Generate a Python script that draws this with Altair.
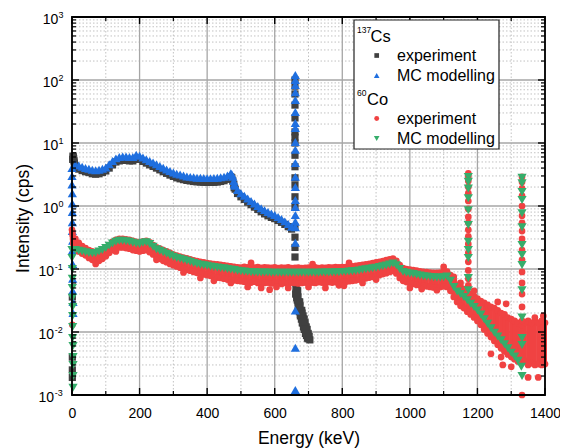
import altair as alt
import pandas as pd

FONT = "Liberation Sans"
GRAY = "#404040"
BLUE = "#1f6fdf"
RED = "#f04242"
GREEN = "#36ad6b"

# ---------------- axis / grid values ----------------
x_major = [0, 200, 400, 600, 800, 1000, 1200, 1400]
x_minor = [100, 300, 500, 700, 900, 1100, 1300]
y_exps = [-3, -2, -1, 0, 1, 2, 3]
y_minor_mult = [2, 3, 4, 5, 6, 7, 8, 9]

# ---------------- 137Cs ----------------
cs_energy = list(range(10, 660, 10))
cs_mc = [4.5, 4.4, 4.2, 4.0, 3.9, 3.75, 3.7, 3.75, 3.9, 4.1,
         4.6, 5.2, 5.7, 6.0, 6.1, 6.1, 6.0, 6.0, 6.5, 6.3,
         5.9, 5.5, 5.2, 4.9, 4.6, 4.3, 4.05, 3.8, 3.6, 3.4,
         3.25, 3.15, 3.05, 2.95, 2.9, 2.85, 2.82, 2.8, 2.78, 2.77,
         2.77, 2.78, 2.8, 2.85, 2.92, 3.05, 3.3, 2.2, 1.8, 1.6,
         1.45, 1.32, 1.2, 1.1, 1.0, 0.92, 0.86, 0.8, 0.76, 0.72,
         0.67, 0.62, 0.57, 0.52, 0.47]
cs_exp = [4.0, 3.85, 3.65, 3.5, 3.4, 3.25, 3.2, 3.25, 3.4, 3.6,
          4.0, 4.5, 5.0, 5.2, 5.3, 5.3, 5.2, 5.2, 5.6, 5.5,
          5.1, 4.8, 4.5, 4.25, 4.0, 3.75, 3.5, 3.3, 3.1, 2.95,
          2.8, 2.7, 2.62, 2.55, 2.5, 2.45, 2.42, 2.4, 2.38, 2.37,
          2.37, 2.38, 2.4, 2.45, 2.52, 2.65, 2.9, 1.95, 1.58, 1.4,
          1.27, 1.15, 1.05, 0.96, 0.88, 0.81, 0.75, 0.7, 0.66, 0.63,
          0.59, 0.55, 0.51, 0.47, 0.43]
cs_edge_energy = [473, 476, 479, 483]
cs_edge_mc = [3.2, 2.9, 2.5, 2.1]
cs_edge_exp = [2.8, 2.5, 2.2, 1.85]

cs_mc_low_energy = [0, 0, 0, 1, 1, 1, 1, 1, 2, 2, 2, 2, 2, 3, 3]
cs_mc_low = [4.0, 3.0, 2.2, 1.6, 1.1, 0.8, 0.55, 0.4, 0.28, 0.2, 0.12, 0.07, 0.045, 0.03, 0.02]
cs_exp_low_energy = [2, 3, 4, 5, 6, 7, 8, 1, 1, 1, 1]
cs_exp_low = [5.5, 6.2, 6.0, 5.6, 5.2, 4.8, 4.4, 0.036, 0.004, 0.0025, 0.0019]

cs_mc_peak_energy = [661] * 22
cs_mc_peak = [120, 100, 83, 64, 48, 31, 20.8, 17.3, 10.4, 7.8, 4.8, 2.9, 2.0,
              1.25, 0.96, 0.72, 0.56, 0.46, 0.26, 0.022, 0.0056, 0.0012]
cs_exp_peak_energy = [660] * 18
cs_exp_peak = [100, 80, 60, 40, 25, 15, 12.4, 10, 6.4, 4.2, 2.8, 2.15, 1.4,
               0.96, 0.46, 0.32, 0.22, 0.155]
cs_exp_tail_energy = [663, 663, 664, 666, 666, 667, 669, 669, 670, 672, 672, 673,
                      675, 675, 676, 678, 678, 679, 681, 681, 682, 684, 684, 685,
                      687, 687, 688, 690, 690, 691, 693, 693, 694, 696, 696, 697,
                      699, 699, 668, 674, 680, 686, 692, 698, 702, 704,
                      662, 665, 670, 676, 682, 688]
cs_exp_tail = [0.06, 0.05, 0.042, 0.045, 0.038, 0.032, 0.036, 0.03, 0.026, 0.03, 0.025, 0.021,
               0.026, 0.022, 0.018, 0.022, 0.019, 0.016, 0.02, 0.017, 0.014, 0.018, 0.015, 0.012,
               0.016, 0.013, 0.011, 0.014, 0.012, 0.0095, 0.012, 0.0105, 0.0088, 0.011, 0.0092, 0.008,
               0.0095, 0.0078, 0.045, 0.03, 0.022, 0.016, 0.012, 0.009, 0.0085, 0.0075,
               0.04, 0.035, 0.024, 0.019, 0.014, 0.011]

# ---------------- 60Co ----------------
co_mc_energy = list(range(10, 1340, 10))
co_mc = [0.2, 0.195, 0.19, 0.185, 0.18, 0.178, 0.18, 0.19, 0.2, 0.215,
         0.235, 0.255, 0.27, 0.28, 0.28, 0.275, 0.27, 0.26, 0.255, 0.25,
         0.26, 0.265, 0.25, 0.225, 0.205, 0.195, 0.185, 0.175, 0.165, 0.157,
         0.15, 0.145, 0.14, 0.135, 0.13, 0.125, 0.12, 0.117, 0.115, 0.113,
         0.11, 0.108, 0.106, 0.104, 0.103, 0.1, 0.098, 0.096, 0.094, 0.092,
         0.091, 0.09, 0.089, 0.089, 0.088, 0.088, 0.088, 0.088, 0.087, 0.087,
         0.087, 0.087, 0.087, 0.087, 0.087, 0.087, 0.087, 0.087, 0.087, 0.087,
         0.087, 0.087, 0.087, 0.088, 0.088, 0.088, 0.088, 0.089, 0.089, 0.09,
         0.09, 0.091, 0.092, 0.093, 0.095, 0.097, 0.099, 0.101, 0.103, 0.105,
         0.108, 0.111, 0.114, 0.118, 0.122, 0.115, 0.1, 0.09, 0.087, 0.085,
         0.083, 0.081, 0.079, 0.077, 0.076, 0.075, 0.074, 0.073, 0.073, 0.074,
         0.076, 0.065, 0.052, 0.044, 0.04, 0.036, 0.032, 0.028, 0.025, 0.022,
         0.019, 0.016, 0.0135, 0.0115, 0.0097, 0.0085, 0.0074, 0.0064, 0.0055, 0.0047,
         0.0041, 0.0035, 0.0028]
co_mc_low_energy = [0, 0, 1, 1, 1, 1, 2, 2, 2, 2, 3, 3, 3, 3, 3]
co_mc_low = [0.2, 0.15, 0.1, 0.07, 0.05, 0.035, 0.025, 0.018, 0.012, 0.008,
             0.006, 0.004, 0.003, 0.002, 0.0013]
co_mc_peak1_energy = [1173] * 11
co_mc_peak1 = [2.9, 2.43, 1.9, 1.33, 0.86, 0.5, 0.27, 0.2, 0.15, 0.072, 0.046]
co_mc_peak2_energy = [1332] * 14
co_mc_peak2 = [2.8, 2.3, 1.67, 1.25, 0.77, 0.46, 0.24, 0.167, 0.116, 0.046,
               0.017, 0.008, 0.0062, 0.002]

co_exp_energy = list(range(10, 1410, 10))
co_exp_hi = [0.30, 0.26, 0.23, 0.215, 0.20, 0.19, 0.185, 0.19, 0.20, 0.22,
             0.24, 0.27, 0.29, 0.30, 0.30, 0.295, 0.29, 0.28, 0.27, 0.265,
             0.275, 0.28, 0.265, 0.24, 0.22, 0.21, 0.20, 0.19, 0.18, 0.17,
             0.163, 0.157, 0.152, 0.147, 0.142, 0.137, 0.133, 0.13, 0.127, 0.124,
             0.122, 0.12, 0.118, 0.116, 0.114, 0.112, 0.11, 0.108, 0.106, 0.105,
             0.108, 0.106, 0.11, 0.105, 0.107, 0.104, 0.106, 0.105, 0.104, 0.106,
             0.103, 0.105, 0.104, 0.106, 0.103, 0.104, 0.105, 0.103, 0.104, 0.105,
             0.104, 0.106, 0.103, 0.105, 0.104, 0.106, 0.105, 0.107, 0.106, 0.107,
             0.107, 0.108, 0.11, 0.112, 0.114, 0.116, 0.119, 0.121, 0.124, 0.127,
             0.13, 0.134, 0.138, 0.142, 0.146, 0.135, 0.115, 0.103, 0.10, 0.098,
             0.096, 0.094, 0.092, 0.09, 0.089, 0.088, 0.087, 0.087, 0.088, 0.09,
             0.091, 0.08, 0.066, 0.056, 0.052, 0.048, 0.044, 0.04, 0.037, 0.034,
             0.031, 0.029, 0.027, 0.025, 0.024, 0.022, 0.02, 0.019, 0.017, 0.016,
             0.015, 0.014, 0.013, 0.014, 0.015, 0.014, 0.015, 0.014, 0.015, 0.014]
co_exp_lo = [0.22, 0.19, 0.175, 0.165, 0.15, 0.14, 0.13, 0.135, 0.145, 0.16,
             0.18, 0.20, 0.215, 0.22, 0.22, 0.215, 0.21, 0.20, 0.195, 0.19,
             0.195, 0.2, 0.185, 0.17, 0.155, 0.145, 0.135, 0.128, 0.12, 0.115,
             0.11, 0.105, 0.1, 0.097, 0.094, 0.09, 0.087, 0.084, 0.082, 0.08,
             0.078, 0.075, 0.073, 0.072, 0.07, 0.068, 0.067, 0.066, 0.065, 0.064,
             0.063, 0.062, 0.061, 0.063, 0.06, 0.062, 0.06, 0.061, 0.059, 0.061,
             0.06, 0.058, 0.06, 0.059, 0.061, 0.06, 0.059, 0.06, 0.061, 0.06,
             0.061, 0.06, 0.062, 0.061, 0.06, 0.062, 0.061, 0.062, 0.061, 0.063,
             0.063, 0.064, 0.065, 0.066, 0.068, 0.07, 0.071, 0.073, 0.075, 0.077,
             0.08, 0.083, 0.086, 0.09, 0.093, 0.085, 0.072, 0.065, 0.062, 0.06,
             0.058, 0.056, 0.055, 0.054, 0.053, 0.052, 0.051, 0.051, 0.052, 0.053,
             0.052, 0.045, 0.036, 0.03, 0.026, 0.024, 0.021, 0.019, 0.017, 0.015,
             0.013, 0.011, 0.0095, 0.0083, 0.0072, 0.0063, 0.0055, 0.0049, 0.0044, 0.004,
             0.0037, 0.0034, 0.0032, 0.0035, 0.003, 0.0032, 0.003, 0.0031, 0.003, 0.0031]
co_exp_scatter_energy = [70, 130, 250, 330, 380, 420, 470, 520, 560, 585, 605, 640,
                         700, 750, 790, 805, 860, 900, 1000, 1035, 1080, 530, 712, 820,
                         1100, 1130, 1150, 1190, 1260, 1285, 1270, 1300, 1240, 1350,
                         1380, 1395, 1370, 1275]
co_exp_scatter = [0.12, 0.19, 0.14, 0.088, 0.072, 0.065, 0.06, 0.052, 0.05, 0.047, 0.052, 0.05,
                  0.052, 0.05, 0.055, 0.054, 0.06, 0.068, 0.05, 0.048, 0.046, 0.125, 0.12, 0.125,
                  0.108, 0.075, 0.06, 0.045, 0.03, 0.028, 0.004, 0.0028, 0.0045, 0.0019,
                  0.0019, 0.018, 0.017, 0.003]
co_exp_low_energy = [0, 1, 2, 3, 4, 5, 1]
co_exp_low = [0.42, 0.38, 0.34, 0.3, 0.26, 0.24, 0.013]
co_exp_peak1_energy = [1173] * 17
co_exp_peak1 = [3.3, 2.9, 2.5, 2.0, 1.6, 1.2, 0.9, 0.67, 0.54, 0.42, 0.33, 0.25,
                0.18, 0.13, 0.095, 0.07, 0.055]
co_exp_peak2_energy = [1332] * 17
co_exp_peak2 = [2.9, 2.4, 1.9, 1.45, 1.0, 0.7, 0.54, 0.4, 0.3, 0.2, 0.14, 0.09,
                0.06, 0.04, 0.025, 0.015, 0.001]

assert len(cs_mc) == len(cs_energy) == len(cs_exp)
assert len(cs_exp_tail) == len(cs_exp_tail_energy)
assert len(co_mc) == len(co_mc_energy)
assert len(co_exp_hi) == len(co_exp_energy) == len(co_exp_lo)
assert len(co_exp_scatter) == len(co_exp_scatter_energy)

# ---------------- frames ----------------
def pts(*pairs):
    es, vs = [], []
    for e, v in pairs:
        es += list(e)
        vs += list(v)
    return pd.DataFrame({"E": es, "I": vs})

df_cs_exp = pts((cs_energy, cs_exp), (cs_edge_energy, cs_edge_exp),
                (cs_exp_low_energy, cs_exp_low), (cs_exp_peak_energy, cs_exp_peak),
                (cs_exp_tail_energy, cs_exp_tail))
df_cs_mc = pts((cs_energy, cs_mc), (cs_edge_energy, cs_edge_mc),
               (cs_mc_low_energy, cs_mc_low), (cs_mc_peak_energy, cs_mc_peak))
df_co_mc = pts((co_mc_energy, co_mc), (co_mc_low_energy, co_mc_low),
               (co_mc_peak1_energy, co_mc_peak1), (co_mc_peak2_energy, co_mc_peak2))
df_co_band = pd.DataFrame({"E": co_exp_energy, "I": co_exp_lo, "I2": co_exp_hi})
df_co_exp = pts((co_exp_energy, co_exp_hi), (co_exp_energy, co_exp_lo),
                (co_exp_scatter_energy, co_exp_scatter), (co_exp_low_energy, co_exp_low),
                (co_exp_peak1_energy, co_exp_peak1), (co_exp_peak2_energy, co_exp_peak2))

y_major = [10.0 ** k for k in y_exps]
y_minor = [m * 10.0 ** k for k in y_exps[:-1] for m in y_minor_mult]
df_xmaj = pd.DataFrame({"E": x_major})
df_xmin = pd.DataFrame({"E": x_minor})
df_ymaj = pd.DataFrame({"I": y_major, "exp": [str(k) for k in y_exps]})
df_ymin = pd.DataFrame({"I": y_minor})
one = pd.DataFrame({"a": [0]})

# ---------------- scales / axes ----------------
W, H = 473, 378
xs = alt.Scale(domain=[0, 1400], nice=False, zero=False)
ys = alt.Scale(type="log", domain=[0.001, 1000], nice=False)
x_axis = alt.Axis(values=x_major, format="d", ticks=False, tickSize=0, domain=False,
                  grid=False, labelFont=FONT, labelFontSize=14, labelColor="black",
                  labelBaseline="alphabetic", labelPadding=22, labelFlush=False,
                  labelOverlap=False, title="Energy (keV)", titleFont=FONT,
                  titleFontSize=17.5, titleFontWeight="normal", titleColor="black",
                  titleY=48, titleBaseline="alphabetic")
y_axis = alt.Axis(labels=False, ticks=False, tickSize=0, domain=False, grid=False,
                  title="Intensity (cps)", titleFont=FONT, titleFontSize=17.5,
                  titleFontWeight="normal", titleColor="black", titleX=-43.5,
                  titleY=201, titleAngle=270, titleBaseline="alphabetic",
                  titleAlign="center")


def X():
    return alt.X("E:Q", scale=xs, axis=x_axis)


def Y():
    return alt.Y("I:Q", scale=ys, axis=y_axis)


layers = []
# grid
layers.append(alt.Chart(df_xmin).mark_rule(color="#c2c2c2", strokeWidth=1, strokeDash=[1.5, 2])
              .encode(x=X(), y=alt.value(0), y2=alt.value(H)))
layers.append(alt.Chart(df_ymin).mark_rule(color="#c2c2c2", strokeWidth=1, strokeDash=[1.5, 2])
              .encode(y=Y(), x=alt.value(0), x2=alt.value(W)))
layers.append(alt.Chart(df_xmaj).mark_rule(color="#a6a6a6", strokeWidth=1.3)
              .encode(x=X(), y=alt.value(0), y2=alt.value(H)))
layers.append(alt.Chart(df_ymaj).mark_rule(color="#a6a6a6", strokeWidth=1.3)
              .encode(y=Y(), x=alt.value(0), x2=alt.value(W)))

# data
layers.append(alt.Chart(df_cs_exp).mark_point(shape="square", filled=True, size=52,
                                              color=GRAY, opacity=1)
              .encode(x=X(), y=Y()))
layers.append(alt.Chart(df_cs_mc).mark_point(shape="triangle-up", filled=True, size=85,
                                             color=BLUE, opacity=1)
              .encode(x=X(), y=Y()))
layers.append(alt.Chart(df_co_band).mark_rule(color=RED, strokeWidth=4)
              .encode(x=X(), y=Y(), y2="I2:Q"))
layers.append(alt.Chart(df_co_exp).mark_point(shape="circle", filled=True, size=45,
                                              color=RED, opacity=1)
              .encode(x=X(), y=Y()))
layers.append(alt.Chart(df_co_mc).mark_point(shape="triangle-down", filled=True, size=85,
                                             color=GREEN, opacity=1)
              .encode(x=X(), y=Y()))

# inward ticks
for yv, y2v in [(H, H - 7), (0, 7)]:
    layers.append(alt.Chart(df_xmaj).mark_rule(color="black", strokeWidth=1.4)
                  .encode(x=X(), y=alt.value(yv), y2=alt.value(y2v)))
for yv, y2v in [(H, H - 4), (0, 4)]:
    layers.append(alt.Chart(df_xmin).mark_rule(color="black", strokeWidth=1.2)
                  .encode(x=X(), y=alt.value(yv), y2=alt.value(y2v)))
for xv, x2v in [(0, 7), (W, W - 7)]:
    layers.append(alt.Chart(df_ymaj).mark_rule(color="black", strokeWidth=1.4)
                  .encode(y=Y(), x=alt.value(xv), x2=alt.value(x2v)))
for xv, x2v in [(0, 4), (W, W - 4)]:
    layers.append(alt.Chart(df_ymin).mark_rule(color="black", strokeWidth=1.2)
                  .encode(y=Y(), x=alt.value(xv), x2=alt.value(x2v)))

# frame
layers.append(alt.Chart(one).mark_rect(fillOpacity=0, stroke="black", strokeWidth=1.8)
              .encode(x=alt.value(0), x2=alt.value(W), y=alt.value(0), y2=alt.value(H)))

# y tick labels (10 with superscript exponent)
pos = alt.datum.I >= 1
neg = alt.datum.I < 1
layers.append(alt.Chart(df_ymaj).transform_filter(pos)
              .mark_text(font=FONT, fontSize=14, align="right", baseline="alphabetic", dy=7, color="black")
              .encode(y=Y(), x=alt.value(-13.7), text=alt.value("10")))
layers.append(alt.Chart(df_ymaj).transform_filter(pos)
              .mark_text(font=FONT, fontSize=9, align="left", baseline="alphabetic", dy=1, color="black")
              .encode(y=Y(), x=alt.value(-13.5), text="exp:N"))
layers.append(alt.Chart(df_ymaj).transform_filter(neg)
              .mark_text(font=FONT, fontSize=14, align="right", baseline="alphabetic", dy=7, color="black")
              .encode(y=Y(), x=alt.value(-18), text=alt.value("10")))
layers.append(alt.Chart(df_ymaj).transform_filter(neg)
              .mark_text(font=FONT, fontSize=9, align="left", baseline="alphabetic", dy=1, color="black")
              .encode(y=Y(), x=alt.value(-17.2), text="exp:N"))

# legend
layers.append(alt.Chart(one).mark_rect(fill="white", stroke="#222222", strokeWidth=1.2)
              .encode(x=alt.value(282), x2=alt.value(427), y=alt.value(3), y2=alt.value(132)))


def ltext(txt, x, y, size):
    return (alt.Chart(one).mark_text(font=FONT, fontSize=size, align="left",
                                     baseline="alphabetic", color="black")
            .encode(x=alt.value(x), y=alt.value(y), text=alt.value(txt)))


def lsym(shape, color, x, y, size):
    return (alt.Chart(one).mark_point(shape=shape, filled=True, size=size, color=color, opacity=1)
            .encode(x=alt.value(x), y=alt.value(y)))


layers += [
    ltext("137", 285, 15.7, 8.5), ltext("Cs", 298.5, 24.5, 16.5),
    lsym("square", GRAY, 304.7, 38.5, 22), ltext("experiment", 325, 43.7, 16),
    lsym("triangle-up", BLUE, 304.7, 58.5, 32), ltext("MC modelling", 325, 64, 16),
    ltext("60", 285, 79, 8.5), ltext("Co", 295, 88, 16.5),
    lsym("circle", RED, 304.7, 101.5, 24), ltext("experiment", 325, 106.5, 16),
    lsym("triangle-down", GREEN, 304.7, 121.5, 32), ltext("MC modelling", 325, 126.5, 16),
]

chart = (alt.layer(*layers)
         .properties(width=W, height=H,
                     autosize=alt.AutoSizeParams(type="none"),
                     padding={"left": 64, "top": 9, "right": 15, "bottom": 53},
                     background="white")
         .configure_view(stroke=None))

chart.save("out.html", embed_options={"renderer": "svg", "actions": False})
